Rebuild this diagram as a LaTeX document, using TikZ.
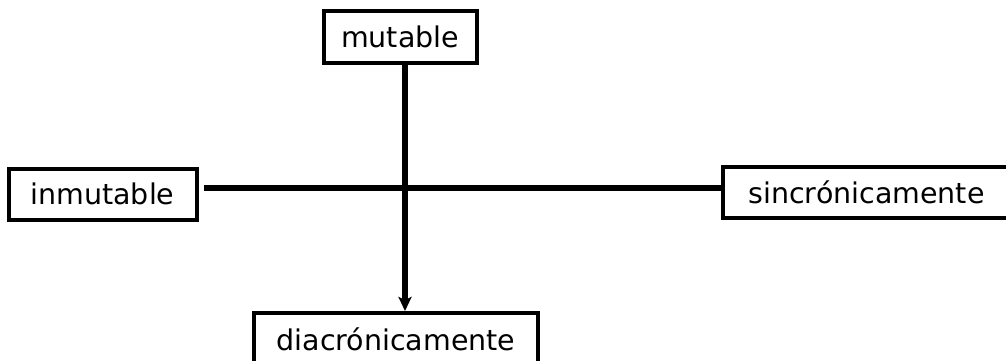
\documentclass[tikz,border=0pt]{standalone}
\usepackage{fontspec}
\setmainfont{DejaVu Sans}
\usetikzlibrary{arrows.meta}
\begin{document}
\begin{tikzpicture}[x=1pt,y=-1pt,
  box/.style={draw=black,line width=4pt,fill=white,inner sep=0pt,
    font=\fontsize{28.5}{32}\selectfont},
  conn/.style={line width=5.5pt}]
\useasboundingbox (0,0) rectangle (1006,360);
\clip (0,0) rectangle (1006,360);
\node[box,minimum width=153pt,minimum height=52pt] (mut) at (400,36.5) {mutable};
\node[box,minimum width=188pt,minimum height=51pt] (inm) at (102.5,194) {inmutable};
\node[box,minimum width=288pt,minimum height=51pt] (sinc) at (866.5,192.5) {sincrónicamente};
\node[box,minimum width=284pt,minimum height=52pt,anchor=north] (dia) at (396,311) {diacrónicamente};
\coordinate (cross) at (405,188);
\draw[conn] (inm.east |- cross) ++(5,0) -- (sinc.west |- cross);
\draw[conn,-{Stealth[length=14pt,width=13pt,inset=3pt]}] (mut.south -| cross) -- (dia.north -| cross);
\end{tikzpicture}
\end{document}
